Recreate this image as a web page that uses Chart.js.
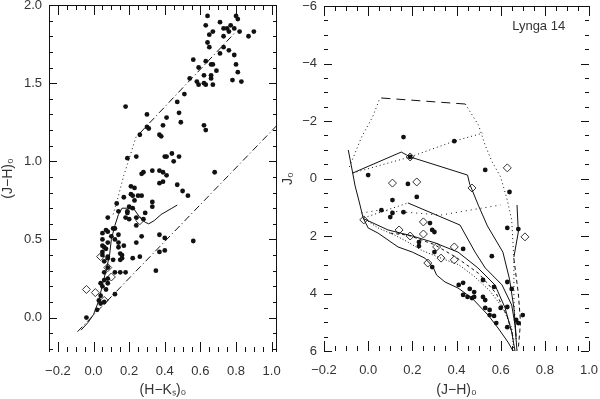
<!DOCTYPE html>
<html>
<head>
<meta charset="utf-8">
<script src="https://cdn.jsdelivr.net/npm/chart.js@4.4.0/dist/chart.umd.min.js"></script>
<style>
  html, body { margin: 0; background: #fff; }
  #wrap { position: relative; width: 600px; height: 399px; }
  #wrap canvas { position: absolute; left: 0; top: 0; }
</style>
</head>
<body>
<div id="wrap">
  <canvas id="cc" width="600" height="399"></canvas>
  <canvas id="cm" width="600" height="399"></canvas>
</div>
<script>
// ---- left panel: (H-Ks)0 vs (J-H)0 ----
const ccStarsHK = [
  0.64,0.80,0.81,0.71,0.63,0.67,0.77,0.75,0.73,0.79,0.76,0.82,0.90,0.87,0.65,0.73,0.64,0.65,0.73,0.76,
  0.71,0.79,0.56,0.63,0.66,0.67,0.59,0.69,0.80,0.81,0.62,0.66,0.66,0.54,0.58,0.62,0.59,0.63,0.67,0.78,
  0.83,0.51,0.47,0.18,0.48,0.30,0.41,0.49,0.39,0.30,0.31,0.62,0.63,0.26,0.37,0.38,
  0.19,0.24,0.40,0.41,0.44,0.45,0.48,0.28,0.33,0.37,0.39,0.68,0.27,0.41,0.37,0.39,0.47,0.50,0.53,0.21,
  0.23,0.17,0.21,0.22,0.25,0.27,0.23,0.33,0.33,0.13,0.20,0.14,0.19,0.19,0.22,0.18,0.20,0.24,0.28,0.24,
  0.08,0.29,
  0.07,0.08,0.11,0.05,0.10,0.14,0.12,0.05,0.08,0.14,0.14,0.17,0.27,0.24,0.15,0.16,0.05,0.06,0.07,0.05,
  0.05,0.08,0.11,0.06,0.08,0.15,0.16,0.37,0.40,0.37,0.40,0.22,0.26,0.35,0.56,0.12,0.15,0.18,0.08,0.06,
  0.08,0.06,0.08,0.04,0.05,0.07,0.12,0.04,0.03,0.06,0.04,0.02,-0.04,0.12
];
const ccStarsJH = [
  1.93,1.93,1.91,1.89,1.87,1.83,1.87,1.85,1.85,1.85,1.83,1.83,1.83,1.80,1.81,1.80,1.76,1.73,1.73,1.71,
  1.69,1.68,1.65,1.64,1.62,1.62,1.60,1.58,1.62,1.57,1.55,1.55,1.53,1.53,1.51,1.50,1.49,1.49,1.49,1.52,
  1.51,1.43,1.38,1.35,1.31,1.30,1.28,1.25,1.23,1.22,1.21,1.23,1.20,1.17,1.17,1.16,
  1.02,1.03,1.03,1.03,1.05,1.00,1.03,0.93,0.94,0.94,0.93,0.93,0.92,0.91,0.86,0.87,0.85,0.81,0.78,0.84,
  0.83,0.77,0.79,0.78,0.78,0.78,0.75,0.74,0.71,0.73,0.71,0.68,0.68,0.67,0.70,0.64,0.63,0.64,0.63,0.59,
  0.64,0.67,
  0.56,0.55,0.57,0.54,0.52,0.53,0.50,0.50,0.48,0.48,0.45,0.46,0.52,0.48,0.41,0.40,0.46,0.45,0.44,0.42,
  0.40,0.39,0.37,0.36,0.38,0.37,0.38,0.53,0.51,0.42,0.43,0.38,0.39,0.30,0.49,0.29,0.29,0.29,0.32,0.29,
  0.25,0.24,0.22,0.22,0.20,0.18,0.15,0.14,0.11,0.10,0.09,0.05,0.00,0.57
];
const ccOpenHK = [0.04,-0.04,0.01,0.08,0.10,0.06,0.26];
const ccOpenJH = [0.39,0.18,0.16,0.32,0.26,0.11,0.62];
const ccDwarfHK = [-0.07,-0.03,0.00,0.03,0.05,0.07,0.09,0.10,0.12,0.14,0.16,0.19,0.23,0.26,0.29,0.31,0.34,0.38,0.44,0.47];
const ccDwarfJH = [-0.08,-0.03,0.02,0.11,0.21,0.30,0.40,0.50,0.59,0.66,0.70,0.70,0.69,0.64,0.61,0.60,0.62,0.66,0.70,0.72];
const ccGiantHK = [0.11,0.14,0.17,0.19,0.22,0.24,0.26];
const ccGiantJH = [0.66,0.78,0.91,0.98,1.09,1.16,1.18];
const ccRedUpperHK = [0.26,0.80];
const ccRedUpperJH = [1.18,1.83];
const ccRedLowerHK = [-0.09,1.03];
const ccRedLowerJH = [-0.09,1.23];
const ccXTicks = [-0.2,0.0,0.2,0.4,0.6,0.8,1.0];
const ccYTicks = [0.0,0.5,1.0,1.5,2.0];

// ---- right panel: (J-H)0 vs J0 ----
const cmStarsJH = [
  0.16,0.39,0.19,0.00,0.18,0.53,0.64,0.22,0.11,0.06,0.11,0.10,0.16,0.28,0.30,0.29,0.63,0.68,0.23,0.23,
  0.30,0.43,0.56,0.29,0.52,0.43,0.41,0.57,0.63,0.65,0.46,0.48,0.43,0.47,0.48,0.45,0.53,0.52,0.53,0.55,
  0.55,0.57,0.60,0.63,0.70,0.68,0.67,0.58,0.63
];
const cmStarsJ = [
  -1.44,-1.30,-0.75,-0.12,0.19,-0.30,0.47,0.64,0.75,1.10,1.20,1.34,1.17,1.55,1.86,1.79,1.72,1.76,2.35,2.21,
  2.56,2.45,2.70,3.08,3.53,3.63,3.70,3.77,3.60,3.84,3.84,3.95,4.05,4.16,4.12,4.12,4.23,4.12,4.50,4.57,
  4.75,4.78,4.50,4.47,4.75,5.03,4.92,5.03,5.17
];
const cmOpenJH = [-0.02,0.14,0.19,0.25,0.25,0.31,0.39,0.33,0.39,0.27,0.71,0.11,0.22,0.47,0.63,0.19];
const cmOpenJ = [1.44,1.79,2.00,1.93,1.51,2.38,2.38,2.77,2.83,2.94,2.03,0.16,0.12,0.33,-0.37,-0.75];
const envLeftJH = [-0.085,-0.03,0.02,0.05,0.06];
const envLeftJ = [-0.40,-1.44,-2.14,-2.73,-2.80];
const envTopJH = [0.06,0.44];
const envTopJ = [-2.80,-2.59];
const envRightJH = [0.44,0.50,0.53,0.56,0.60,0.63,0.65,0.66,0.66,0.67];
const envRightJ = [-2.59,-1.85,-1.15,-0.60,-0.05,0.75,1.44,2.83,4.23,5.62];
const isoUpJH = [-0.07,0.19,0.39,0.52];
const isoUpJ = [-0.19,-0.75,-1.30,-1.58];
const isoBentJH = [-0.07,0.15,0.19,0.45,0.46,0.50,0.54,0.61,0.64,0.66,0.67];
const isoBentJ = [-0.19,-0.92,-0.75,-0.12,0.20,0.95,1.65,2.56,3.50,4.50,5.50];
const zamsJH = [-0.09,-0.07,-0.06,-0.037,-0.023,0.00,0.045,0.09,0.135,0.20,0.257,0.294,0.31,0.348,0.407,0.47,0.543,0.588,0.633,0.656];
const zamsJ = [-0.99,-0.19,0.23,0.92,1.37,1.72,1.90,2.14,2.38,2.56,2.77,3.08,3.36,3.60,3.81,4.16,4.75,5.20,5.69,6.00];
const isoMidJH = [-0.023,0.045,0.12,0.18,0.24,0.316,0.41,0.48,0.55,0.61,0.65,0.66];
const isoMidJ = [1.37,1.72,1.97,2.21,2.49,2.73,3.00,3.40,3.90,4.50,5.20,6.00];
const isoSolidJH = [-0.02,0.09,0.20,0.303,0.407,0.497,0.574,0.62,0.65,0.665];
const isoSolidJ = [1.40,1.79,2.00,2.24,2.56,3.11,3.70,4.50,5.34,6.00];
const isoDashJH = [0.10,0.18,0.30,0.40,0.50,0.58,0.63,0.66];
const isoDashJ = [1.90,1.97,2.30,2.75,3.30,4.00,4.80,5.60];
const arcStartJH = [-0.02,0.18];
const arcStartJ = [1.37,0.85];
const isoArcJH = [0.18,0.416,0.484,0.53,0.606,0.65,0.665,0.674];
const isoArcJ = [0.85,1.62,2.56,3.11,3.70,4.40,5.10,6.00];
const isoHorJH = [-0.03,0.05,0.33,0.60];
const isoHorJ = [1.20,1.10,1.27,0.92];
const edgeSolidJH = [0.674,0.68,0.66];
const edgeSolidJ = [0.92,1.86,2.73];
const edgeDashJH = [0.66,0.68,0.69,0.68];
const edgeDashJ = [2.80,4.00,5.00,5.90];
const cmXTicks = [-0.2,0.0,0.2,0.4,0.6,0.8,1.0];
const cmYTicks = [-6,-4,-2,0,2,4,6];

const INK = '#111';
const FONT = "'Liberation Sans', Arial, sans-serif";

function pts(xs, ys) {
  return xs.map((v, i) => ({ x: v, y: ys[i] }));
}
function minus(s) {
  return s.replace('-', '\u2212');
}
function dots(xs, ys) {
  return { data: pts(xs, ys), pointRadius: 2.4, pointBackgroundColor: INK, pointBorderWidth: 0, showLine: false };
}
function diamonds(xs, ys) {
  return { data: pts(xs, ys), pointStyle: 'rectRot', pointRadius: 4, pointBorderColor: '#333',
           pointBackgroundColor: 'rgba(0,0,0,0)', pointBorderWidth: 1, showLine: false };
}
function curve(xs, ys, dash) {
  return { data: pts(xs, ys), showLine: true, pointRadius: 0, borderColor: INK, borderWidth: 1, borderDash: dash || [] };
}

// IDL style frame: inward major/minor ticks, selected border lines
const idlFrame = {
  id: 'idlFrame',
  afterDraw(chart, args, o) {
    const { ctx, chartArea: a, scales } = chart;
    const sx = scales.x, sy = scales.y;
    const range = (s, step) => {
      const lo = Math.min(s.min, s.max), hi = Math.max(s.min, s.max), out = [];
      for (let k = Math.ceil(lo / step - 1e-6); k * step <= hi + 1e-9; k++) out.push(k * step);
      return out;
    };
    const isMajor = (v, step) => Math.abs(v / step - Math.round(v / step)) < 1e-6;
    ctx.save();
    ctx.strokeStyle = INK;
    ctx.lineWidth = 1;
    ctx.beginPath();
    if (o.top) { ctx.moveTo(a.left, a.top + 0.5); ctx.lineTo(a.right, a.top + 0.5); }
    if (o.sides) {
      ctx.moveTo(a.left + 0.5, a.top); ctx.lineTo(a.left + 0.5, a.bottom);
      ctx.moveTo(a.right - 0.5, a.top); ctx.lineTo(a.right - 0.5, a.bottom);
    }
    range(sx, o.xMinor).forEach(v => {
      const p = Math.round(sx.getPixelForValue(v)) + 0.5;
      const len = isMajor(v, o.xMajor) ? 10 : 5;
      ctx.moveTo(p, a.bottom); ctx.lineTo(p, a.bottom - len);
      ctx.moveTo(p, a.top); ctx.lineTo(p, a.top + len);
    });
    range(sy, o.yMinor).forEach(v => {
      const p = Math.round(sy.getPixelForValue(v)) + 0.5;
      const len = isMajor(v, o.yMajor) ? 8 : 4;
      ctx.moveTo(a.left, p); ctx.lineTo(a.left + len, p);
      ctx.moveTo(a.right, p); ctx.lineTo(a.right - len, p);
    });
    ctx.stroke();
    if (o.label) {
      ctx.fillStyle = '#333';
      ctx.font = '13px ' + FONT;
      ctx.textAlign = 'left';
      ctx.textBaseline = 'middle';
      ctx.fillText(o.label, a.left + (a.right - a.left) * 0.71, a.top + 20);
    }
    ctx.restore();
  }
};

function axis(ticks, fmt, size, isY, title, extra) {
  return Object.assign({
    type: 'linear',
    grid: { display: false, drawTicks: false },
    border: { display: false },
    afterBuildTicks: s => { s.ticks = ticks.map(v => ({ value: v })); },
    afterFit: s => {
      if (isY) { s.width = size; s.paddingTop = 0; s.paddingBottom = 0; }
      else { s.height = size; s.paddingLeft = 0; s.paddingRight = 0; }
    },
    ticks: {
      autoSkip: false, maxRotation: 0, color: '#333', padding: isY ? 7 : 12,
      font: { family: FONT, size: 13 },
      callback: fmt
    },
    title: { display: true, text: title, color: '#333', font: { family: FONT, size: 14 },
             padding: { top: 0, bottom: 0 } }
  }, extra);
}

function baseOptions(padding) {
  return {
    responsive: false,
    animation: false,
    events: [],
    layout: { padding: padding },
    plugins: { legend: { display: false }, tooltip: { enabled: false } }
  };
}

const ccOptions = baseOptions({ left: 0, top: 5, right: 323, bottom: 0 });
ccOptions.scales = {
  x: axis(ccXTicks, v => minus(v.toFixed(1)), 47, false, '(H\u2212K\u209B)\u2080', { min: -0.25, max: 1.03 }),
  y: axis(ccYTicks, v => v.toFixed(1), 49, true, '(J\u2212H)\u2080', { min: -0.22, max: 2.0 })
};
ccOptions.plugins.idlFrame = { top: true, sides: true, xMajor: 0.2, xMinor: 0.05, yMajor: 0.5, yMinor: 0.1 };

new Chart(document.getElementById('cc'), {
  type: 'scatter',
  data: {
    datasets: [
      curve(ccRedLowerHK, ccRedLowerJH, [7, 3, 1, 3]),
      curve(ccRedUpperHK, ccRedUpperJH, [7, 3, 1, 3]),
      curve(ccGiantHK, ccGiantJH, [1, 3]),
      curve(ccDwarfHK, ccDwarfJH),
      dots(ccStarsHK, ccStarsJH),
      diamonds(ccOpenHK, ccOpenJH)
    ]
  },
  options: ccOptions,
  plugins: [idlFrame]
});

const cmOptions = baseOptions({ left: 280, top: 6, right: 11, bottom: 0 });
cmOptions.scales = {
  x: axis(cmXTicks, v => minus(v.toFixed(1)), 48, false, '(J\u2212H)\u2080', { min: -0.2, max: 1.0 }),
  y: axis(cmYTicks, v => minus(String(v)), 44, true, 'J\u2080', { min: -6, max: 6, reverse: true })
};
cmOptions.plugins.idlFrame = { top: true, sides: false, xMajor: 0.2, xMinor: 0.05, yMajor: 2, yMinor: 0.5, label: 'Lynga 14' };

new Chart(document.getElementById('cm'), {
  type: 'scatter',
  data: {
    datasets: [
      curve(envLeftJH, envLeftJ, [1, 3]),
      curve(envTopJH, envTopJ, [9, 6]),
      curve(envRightJH, envRightJ, [1, 3]),
      curve(isoUpJH, isoUpJ, [1, 3]),
      curve(isoBentJH, isoBentJ),
      curve(zamsJH, zamsJ),
      curve(isoMidJH, isoMidJ, [1, 2]),
      curve(isoSolidJH, isoSolidJ),
      curve(isoDashJH, isoDashJ, [3, 3]),
      curve(arcStartJH, arcStartJ, [1, 3]),
      curve(isoArcJH, isoArcJ),
      curve(isoHorJH, isoHorJ, [1, 4]),
      curve(edgeSolidJH, edgeSolidJ),
      curve(edgeDashJH, edgeDashJ, [4, 3]),
      dots(cmStarsJH, cmStarsJ),
      diamonds(cmOpenJH, cmOpenJ)
    ]
  },
  options: cmOptions,
  plugins: [idlFrame]
});
</script>
</body>
</html>
